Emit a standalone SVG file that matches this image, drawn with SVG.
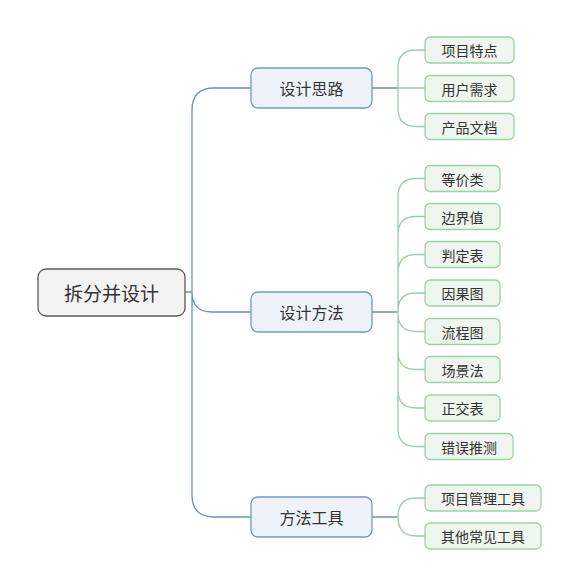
<svg xmlns="http://www.w3.org/2000/svg" width="580" height="587" viewBox="0 0 580 587">
<style>
text{font-family:"Microsoft YaHei","Noto Sans CJK SC",sans-serif;fill:#333;text-anchor:middle;dominant-baseline:central}
.root rect{fill:#f3f3f3;stroke:#5a5a5a;stroke-width:1.3}
.root text{font-size:19px}
.l1 rect{fill:#eef3fa;stroke:#7199c6;stroke-width:1.3}
.l1 text{font-size:16px}
.l2 rect{fill:#eef6ef;stroke:#9ed1a8;stroke-width:1.3}
.l2 text{font-size:14px}
.c1{fill:none;stroke:#6a93c0;stroke-width:1.3}
.c2{fill:none;stroke:#97d0a4;stroke-width:1.3}
</style>
<rect width="580" height="587" fill="#fff"/>
<g id="connectors">
<path class="c1" d="M185,292 H192 M192,292 V110 Q192,88 214,88 H251 M192,292 Q192,312 212,312 H251 M192,292 V495 Q192,517 214,517 H251"/>
<path class="c1" d="M372,88 H398 M372,312 H398 M372,517 H398"/>
<path class="c2" d="M398,88 V68 Q398,50 416,50 H425 M398,88 H425 M398,88 V108 Q398,126.5 416,126.5 H425"/>
<path class="c2" d="M398,312 V196.5 Q398,178.5 416,178.5 H425 M398,312 V234.5 Q398,216.5 416,216.5 H425 M398,312 V272.5 Q398,254.5 416,254.5 H425 M398,312 V311 Q398,293 416,293 H425 M398,312 V313.5 Q398,331.5 416,331.5 H425 M398,312 V351.5 Q398,369.5 416,369.5 H425 M398,312 V390 Q398,408 416,408 H425 M398,312 V428.5 Q398,446.5 416,446.5 H425"/>
<path class="c2" d="M398,517 Q398,498 416,498 H425 M398,517 Q398,536 416,536 H425"/>
</g>
<g id="root" class="root"><rect x="38" y="269" width="147" height="47" rx="8"/><text x="111.5" y="292.5">拆分并设计</text></g>
<g id="n1" class="l1"><rect x="251" y="68" width="121" height="40" rx="7"/><text x="311.5" y="88">设计思路</text></g>
<g id="n2" class="l1"><rect x="251" y="292" width="121" height="40" rx="7"/><text x="311.5" y="312">设计方法</text></g>
<g id="n3" class="l1"><rect x="251" y="497" width="121" height="40" rx="7"/><text x="311.5" y="517">方法工具</text></g>
<g id="a1" class="l2"><rect x="425" y="37" width="89" height="26" rx="5"/><text x="469.5" y="50">项目特点</text></g>
<g id="a2" class="l2"><rect x="425" y="75.5" width="89" height="26" rx="5"/><text x="469.5" y="88.5">用户需求</text></g>
<g id="a3" class="l2"><rect x="425" y="113.5" width="89" height="26" rx="5"/><text x="469.5" y="126.5">产品文档</text></g>
<g id="b1" class="l2"><rect x="425" y="165.5" width="75" height="26" rx="5"/><text x="462.5" y="178.5">等价类</text></g>
<g id="b2" class="l2"><rect x="425" y="203.5" width="75" height="26" rx="5"/><text x="462.5" y="216.5">边界值</text></g>
<g id="b3" class="l2"><rect x="425" y="241.5" width="75" height="26" rx="5"/><text x="462.5" y="254.5">判定表</text></g>
<g id="b4" class="l2"><rect x="425" y="280" width="75" height="26" rx="5"/><text x="462.5" y="293">因果图</text></g>
<g id="b5" class="l2"><rect x="425" y="318.5" width="75" height="26" rx="5"/><text x="462.5" y="331.5">流程图</text></g>
<g id="b6" class="l2"><rect x="425" y="356.5" width="75" height="26" rx="5"/><text x="462.5" y="369.5">场景法</text></g>
<g id="b7" class="l2"><rect x="425" y="395" width="75" height="26" rx="5"/><text x="462.5" y="408">正交表</text></g>
<g id="b8" class="l2"><rect x="425" y="433.5" width="88" height="26" rx="5"/><text x="469" y="446.5">错误推测</text></g>
<g id="c1n" class="l2"><rect x="425" y="485" width="116" height="26" rx="5"/><text x="483" y="498">项目管理工具</text></g>
<g id="c2n" class="l2"><rect x="425" y="523" width="116" height="26" rx="5"/><text x="483" y="536">其他常见工具</text></g>
</svg>
